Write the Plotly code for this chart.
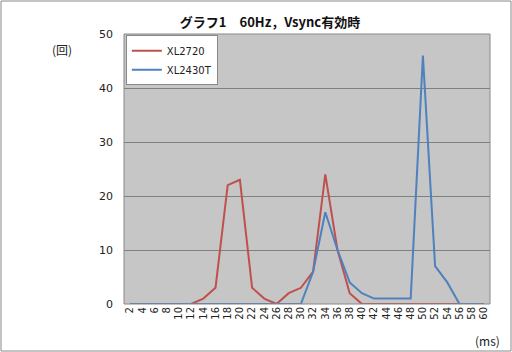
import plotly.graph_objects as go

categories = [str(v) for v in range(2, 61, 2)]
xl2720 = [0, 0, 0, 0, 0, 0, 1, 3, 22, 23, 3, 1, 0, 2, 3, 6, 24, 10, 2, 0, 0, 0, 0, 0, 0, 0, 0, 0, 0, 0]
xl2430t = [0, 0, 0, 0, 0, 0, 0, 0, 0, 0, 0, 0, 0, 0, 0, 6, 17, 10, 4, 2, 1, 1, 1, 1, 46, 7, 4, 0, 0, 0]
y_ticks = [0, 10, 20, 30, 40, 50]

W, H = 512, 352
L, R, T, B = 124, 22, 34, 48
pw, ph = W - L - R, H - T - B

fig = go.Figure()
fig.add_trace(go.Scatter(x=categories, y=xl2720, mode="lines", name="XL2720",
                         line=dict(color="#c0504d", width=2)))
fig.add_trace(go.Scatter(x=categories, y=xl2430t, mode="lines", name="XL2430T",
                         line=dict(color="#4f81bd", width=2)))

font_fam = "Noto Sans CJK JP, DejaVu Sans, sans-serif"
tick_fam = "DejaVu Sans, Verdana, sans-serif"
fig.update_layout(
    width=W, height=H,
    margin=dict(l=L, r=R, t=T, b=B),
    paper_bgcolor="white",
    plot_bgcolor="#c6c6c6",
    font=dict(family=font_fam, size=11, color="#222"),
    title=dict(text="<b>グラフ1　60Hz，Vsync有効時</b>", x=270 / W, xanchor="center",
               y=1 - 22 / H, yanchor="middle", font=dict(size=13, color="#111")),
    legend=dict(x=0.005, y=0.995, xanchor="left", yanchor="top",
                bgcolor="white", bordercolor="#888", borderwidth=1,
                font=dict(size=10, color="#222", family=tick_fam), tracegroupgap=0,
                itemwidth=30),
    xaxis=dict(type="category", range=[-0.5, len(categories) - 0.5],
               tickangle=-90, tickfont=dict(size=10, family=tick_fam), showgrid=False,
               ticks="", showline=False, zeroline=False),
    yaxis=dict(range=[0, 50], tickvals=y_ticks, showgrid=True,
               gridcolor="#808080", gridwidth=1, zeroline=False,
               ticks="", tickfont=dict(size=11, family=tick_fam), showline=False,
               ticklabelstandoff=10),
    showlegend=True,
)

# plot border
fig.add_shape(type="rect", xref="paper", yref="paper", x0=0, y0=0, x1=1, y1=1,
              line=dict(color="#888", width=1), layer="above")
# outer chart border
fig.add_shape(type="rect", xref="paper", yref="paper",
              x0=-(L - 1) / pw, x1=1 + (R - 1) / pw,
              y0=-(B - 1) / ph, y1=1 + (T - 1) / ph,
              line=dict(color="#888", width=1))

fig.add_annotation(text="(回)", xref="paper", yref="paper",
                   x=(62 - L) / pw, y=1 - (50 - T) / ph, showarrow=False,
                   xanchor="center", yanchor="middle", font=dict(size=12, color="#222"))
fig.add_annotation(text="(ms)", xref="paper", yref="paper",
                   x=(487 - L) / pw, y=-(340 - T - ph) / ph, showarrow=False,
                   xanchor="center", yanchor="middle", font=dict(size=12, color="#222"))

fig.write_html("out.html")
